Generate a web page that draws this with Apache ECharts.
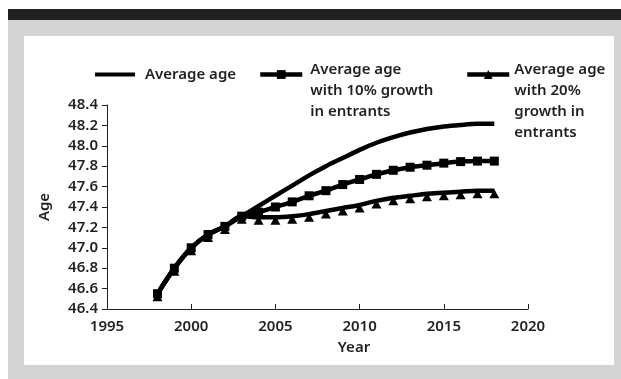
<!DOCTYPE html>
<html>
<head>
<meta charset="utf-8">
<script src="https://cdn.jsdelivr.net/npm/echarts@6/dist/echarts.min.js"></script>
<style>
  html, body { margin: 0; padding: 0; background: #ffffff; }
  #topbar { position: absolute; left: 8px; top: 9px; width: 613px; height: 11px; background: #231f20; }
  #frame { position: absolute; left: 8px; top: 20px; width: 613px; height: 359px; background: #d1d3d4; }
  #panel { position: absolute; left: 24px; top: 36px; width: 590px; height: 329px; background: #ffffff; }
  #chart { position: absolute; left: 0; top: 0; width: 621px; height: 379px; }
</style>
</head>
<body>
<div id="topbar"></div>
<div id="frame"></div>
<div id="panel"></div>
<div id="chart"></div>
<script>
// Projected average age of the workforce, 1998-2018
const years = [1998, 1999, 2000, 2001, 2002, 2003, 2004, 2005, 2006, 2007, 2008,
               2009, 2010, 2011, 2012, 2013, 2014, 2015, 2016, 2017, 2018];

const avgAge = [46.55, 46.80, 47.00, 47.13, 47.21, 47.31, 47.41, 47.51, 47.61, 47.71, 47.80,
                47.88, 47.96, 48.03, 48.085, 48.13, 48.165, 48.19, 48.205, 48.215, 48.215];

const avgAge10 = [46.55, 46.80, 47.00, 47.13, 47.21, 47.31, 47.35, 47.40, 47.45, 47.51, 47.56,
                  47.62, 47.67, 47.72, 47.76, 47.79, 47.81, 47.83, 47.845, 47.85, 47.85];

const avgAge20 = [46.55, 46.80, 47.00, 47.13, 47.21, 47.31, 47.30, 47.30, 47.31, 47.33, 47.36,
                  47.39, 47.42, 47.46, 47.49, 47.51, 47.53, 47.54, 47.55, 47.56, 47.56];

const seriesNames = [
  'Average age',
  'Average age\nwith 10% growth\nin entrants',
  'Average age\nwith 20%\ngrowth in\nentrants'
];

const xAxisRange = { min: 1995, max: 2020, interval: 5 };
const yAxisRange = { min: 46.4, max: 48.4, interval: 0.2 };

const ink = '#231f20';
const font = '"Noto Sans", "Open Sans", sans-serif';
const lineH = 21;
const strokeW = 4.5;

function pairs(vals) {
  return years.map((y, i) => [y, vals[i]]);
}

// Legend entry whose first text line sits level with the key symbol:
// an invisible spacer line of height `gap` pushes the centred block down.
function legendFor(name, left, top, itemWidth, itemHeight, gap, indent, icon) {
  const lines = name.split('\n');
  const textStyle = {
    color: ink,
    fontFamily: font,
    fontWeight: 600,
    fontSize: 15,
    lineHeight: lineH,
    rich: {
      g: { fontSize: 1, lineHeight: gap },
      t: {
        color: ink, fontFamily: font, fontWeight: 600, fontSize: 15, lineHeight: lineH,
        padding: [0, 0, 0, indent]
      }
    }
  };
  const item = { name: name };
  if (icon) item.icon = icon;
  return {
    data: [item],
    left: left,
    top: top,
    padding: 0,
    itemWidth: itemWidth,
    itemHeight: itemHeight,
    itemGap: 0,
    selectedMode: false,
    lineStyle: { width: strokeW },
    formatter: () => (gap > 0 ? '{g| }\n' : '') + lines.map(l => '{t|' + l + '}').join('\n'),
    textStyle: textStyle
  };
}

const chart = echarts.init(document.getElementById('chart'), null, { renderer: 'canvas' });

chart.setOption({
  animation: false,
  backgroundColor: 'transparent',
  textStyle: { fontFamily: font },
  legend: [
    legendFor(seriesNames[0], 95, 64, 40, 4, 0, 5, 'rect'),
    legendFor(seriesNames[1], 258, 27, 42, 11, 32, 3),
    legendFor(seriesNames[2], 465, 6, 42, 11, 53, 0)
  ],
  grid: { left: 107, right: 93, top: 105, bottom: 70, containLabel: false },
  xAxis: {
    type: 'value',
    min: xAxisRange.min,
    max: xAxisRange.max,
    interval: xAxisRange.interval,
    name: 'Year',
    nameLocation: 'middle',
    nameGap: 31,
    nameTextStyle: { color: ink, fontFamily: font, fontWeight: 600, fontSize: 15, padding: [0, 0, 0, 73] },
    axisLine: { lineStyle: { color: ink, width: 1 } },
    axisTick: { inside: true, length: 5, lineStyle: { color: ink } },
    axisLabel: {
      color: ink, fontFamily: font, fontWeight: 600, fontSize: 15, margin: 10,
      formatter: v => String(v)
    },
    splitLine: { show: false }
  },
  yAxis: {
    type: 'value',
    min: yAxisRange.min,
    max: yAxisRange.max,
    interval: yAxisRange.interval,
    name: 'Age',
    nameLocation: 'middle',
    nameGap: 55,
    nameRotate: 90,
    nameTextStyle: { color: ink, fontFamily: font, fontWeight: 600, fontSize: 15 },
    axisLine: { show: true, lineStyle: { color: ink, width: 1 } },
    axisTick: { show: true, inside: false, length: 5, lineStyle: { color: ink } },
    axisLabel: {
      color: ink, fontFamily: font, fontWeight: 600, fontSize: 15, margin: 9,
      formatter: v => v.toFixed(1)
    },
    splitLine: { show: false }
  },
  series: [
    {
      name: seriesNames[0],
      type: 'line',
      data: pairs(avgAge),
      smooth: 0.3,
      symbol: 'none',
      lineStyle: { color: '#000', width: strokeW },
      itemStyle: { color: '#000' },
      z: 3
    },
    {
      name: seriesNames[1],
      type: 'line',
      data: pairs(avgAge10),
      smooth: 0.3,
      symbol: 'rect',
      symbolSize: 9,
      lineStyle: { color: '#000', width: strokeW },
      itemStyle: { color: '#000' },
      z: 4
    },
    {
      name: seriesNames[2],
      type: 'line',
      data: pairs(avgAge20),
      smooth: 0.3,
      symbol: 'triangle',
      symbolSize: [10, 9],
      symbolOffset: [0, 3],
      lineStyle: { color: '#000', width: strokeW },
      itemStyle: { color: '#000' },
      z: 2
    }
  ]
});
</script>
</body>
</html>
